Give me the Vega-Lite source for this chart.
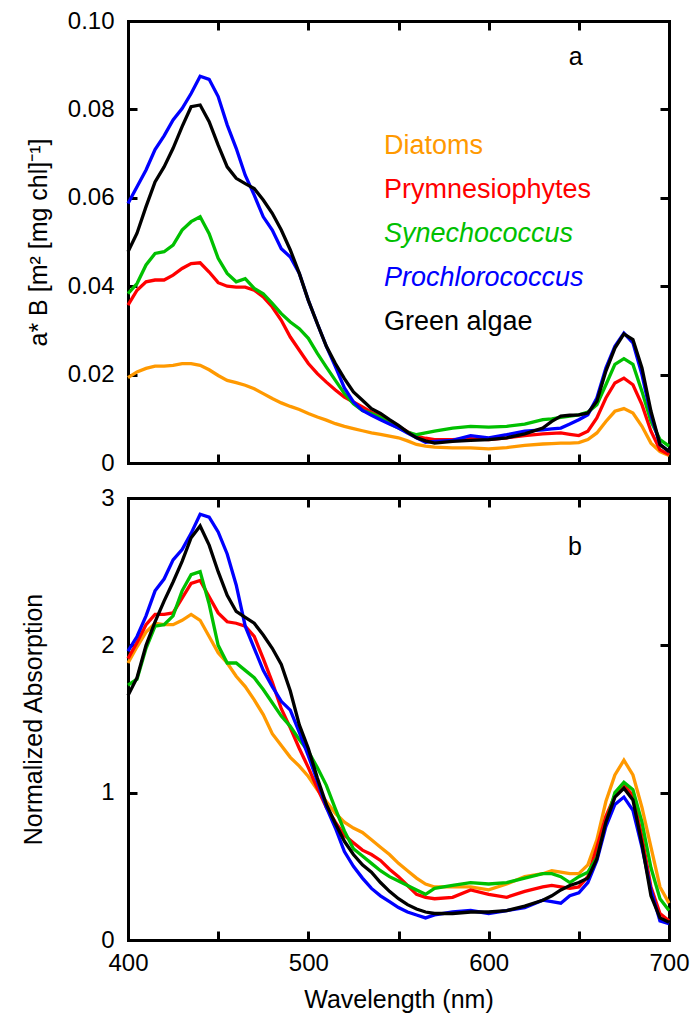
{
 "$schema": "https://vega.github.io/schema/vega-lite/v6.json",
 "background": "white",
 "padding": {"left": 21, "top": 9, "right": 0, "bottom": 5},
 "bounds": "flush",
 "spacing": 35,
 "config": {
  "font": "Liberation Sans",
  "view": {"stroke": null},
  "axis": {"domain": true, "domainColor": "black", "domainWidth": 3, "domainCap": "square", "grid": false, "ticks": false, "tickSize": 0, "tickColor": "black", "tickWidth": 3, "labelFlush": false, "labelFontSize": 24, "labelColor": "black", "labelFont": "Liberation Sans", "titleFont": "Liberation Sans", "titleFontSize": 25, "titleFontWeight": "normal", "titleColor": "black", "labelPadding": 14},
  "title": {"font": "Liberation Sans", "fontSize": 25, "fontWeight": "normal", "color": "black"}
 },
 "datasets": {
  "a": [
   {"wl":400,"Diatoms":0.0193,"Prymnesiophytes":0.0357,"Synechococcus":0.0383,"Prochlorococcus":0.0587,"Green algae":0.0478},
   {"wl":405,"Diatoms":0.0206,"Prymnesiophytes":0.0391,"Synechococcus":0.0406,"Prochlorococcus":0.0625,"Green algae":0.052},
   {"wl":410,"Diatoms":0.0214,"Prymnesiophytes":0.041,"Synechococcus":0.0448,"Prochlorococcus":0.0663,"Green algae":0.058},
   {"wl":415,"Diatoms":0.0219,"Prymnesiophytes":0.0414,"Synechococcus":0.0474,"Prochlorococcus":0.0709,"Green algae":0.0636},
   {"wl":420,"Diatoms":0.0219,"Prymnesiophytes":0.0414,"Synechococcus":0.0478,"Prochlorococcus":0.074,"Green algae":0.067},
   {"wl":425,"Diatoms":0.0221,"Prymnesiophytes":0.0425,"Synechococcus":0.0493,"Prochlorococcus":0.0776,"Green algae":0.0712},
   {"wl":430,"Diatoms":0.0225,"Prymnesiophytes":0.044,"Synechococcus":0.0527,"Prochlorococcus":0.0802,"Green algae":0.0761},
   {"wl":435,"Diatoms":0.0225,"Prymnesiophytes":0.0451,"Synechococcus":0.0546,"Prochlorococcus":0.0836,"Green algae":0.0806},
   {"wl":440,"Diatoms":0.0221,"Prymnesiophytes":0.0453,"Synechococcus":0.0557,"Prochlorococcus":0.0875,"Green algae":0.081},
   {"wl":445,"Diatoms":0.0211,"Prymnesiophytes":0.0432,"Synechococcus":0.0519,"Prochlorococcus":0.0868,"Green algae":0.0772},
   {"wl":450,"Diatoms":0.0198,"Prymnesiophytes":0.0408,"Synechococcus":0.0463,"Prochlorococcus":0.0829,"Green algae":0.0719},
   {"wl":455,"Diatoms":0.0187,"Prymnesiophytes":0.04,"Synechococcus":0.0429,"Prochlorococcus":0.0765,"Green algae":0.067},
   {"wl":460,"Diatoms":0.0182,"Prymnesiophytes":0.0398,"Synechococcus":0.041,"Prochlorococcus":0.0712,"Green algae":0.0644},
   {"wl":465,"Diatoms":0.0176,"Prymnesiophytes":0.0398,"Synechococcus":0.0417,"Prochlorococcus":0.0651,"Green algae":0.0632},
   {"wl":470,"Diatoms":0.0168,"Prymnesiophytes":0.0391,"Synechococcus":0.0395,"Prochlorococcus":0.0606,"Green algae":0.0621},
   {"wl":475,"Diatoms":0.0157,"Prymnesiophytes":0.0376,"Synechococcus":0.0383,"Prochlorococcus":0.0557,"Green algae":0.0595},
   {"wl":480,"Diatoms":0.0146,"Prymnesiophytes":0.0353,"Synechococcus":0.0361,"Prochlorococcus":0.0527,"Green algae":0.0565},
   {"wl":485,"Diatoms":0.0136,"Prymnesiophytes":0.0323,"Synechococcus":0.0338,"Prochlorococcus":0.0485,"Green algae":0.0527},
   {"wl":490,"Diatoms":0.0128,"Prymnesiophytes":0.0285,"Synechococcus":0.0319,"Prochlorococcus":0.0466,"Green algae":0.0482},
   {"wl":495,"Diatoms":0.0121,"Prymnesiophytes":0.0255,"Synechococcus":0.0304,"Prochlorococcus":0.0429,"Green algae":0.0429},
   {"wl":500,"Diatoms":0.0112,"Prymnesiophytes":0.0225,"Synechococcus":0.0282,"Prochlorococcus":0.0368,"Green algae":0.0368},
   {"wl":505,"Diatoms":0.0104,"Prymnesiophytes":0.0202,"Synechococcus":0.0248,"Prochlorococcus":0.0315,"Green algae":0.0315},
   {"wl":510,"Diatoms":0.0097,"Prymnesiophytes":0.0183,"Synechococcus":0.0217,"Prochlorococcus":0.0264,"Green algae":0.0264},
   {"wl":515,"Diatoms":0.0089,"Prymnesiophytes":0.0165,"Synechococcus":0.0187,"Prochlorococcus":0.0218,"Green algae":0.0225},
   {"wl":520,"Diatoms":0.0083,"Prymnesiophytes":0.0149,"Synechococcus":0.0157,"Prochlorococcus":0.017,"Green algae":0.0191},
   {"wl":525,"Diatoms":0.0078,"Prymnesiophytes":0.0138,"Synechococcus":0.0134,"Prochlorococcus":0.0138,"Green algae":0.0161},
   {"wl":530,"Diatoms":0.0073,"Prymnesiophytes":0.0127,"Synechococcus":0.0119,"Prochlorococcus":0.0119,"Green algae":0.0142},
   {"wl":535,"Diatoms":0.0068,"Prymnesiophytes":0.0115,"Synechococcus":0.0112,"Prochlorococcus":0.0108,"Green algae":0.0123},
   {"wl":540,"Diatoms":0.0065,"Prymnesiophytes":0.0106,"Synechococcus":0.0103,"Prochlorococcus":0.0098,"Green algae":0.0112},
   {"wl":545,"Diatoms":0.0061,"Prymnesiophytes":0.0095,"Synechococcus":0.009,"Prochlorococcus":0.0088,"Green algae":0.0098},
   {"wl":550,"Diatoms":0.0057,"Prymnesiophytes":0.0083,"Synechococcus":0.0079,"Prochlorococcus":0.0079,"Green algae":0.0085},
   {"wl":555,"Diatoms":0.005,"Prymnesiophytes":0.0071,"Synechococcus":0.007,"Prochlorococcus":0.0068,"Green algae":0.007},
   {"wl":560,"Diatoms":0.0042,"Prymnesiophytes":0.006,"Synechococcus":0.0064,"Prochlorococcus":0.0057,"Green algae":0.0057},
   {"wl":565,"Diatoms":0.0038,"Prymnesiophytes":0.0056,"Synechococcus":0.0068,"Prochlorococcus":0.0047,"Green algae":0.005},
   {"wl":570,"Diatoms":0.0036,"Prymnesiophytes":0.0053,"Synechococcus":0.0072,"Prochlorococcus":0.0049,"Green algae":0.0045},
   {"wl":580,"Diatoms":0.0034,"Prymnesiophytes":0.0053,"Synechococcus":0.0079,"Prochlorococcus":0.0051,"Green algae":0.0049},
   {"wl":590,"Diatoms":0.0034,"Prymnesiophytes":0.0055,"Synechococcus":0.0083,"Prochlorococcus":0.0062,"Green algae":0.0051},
   {"wl":600,"Diatoms":0.0032,"Prymnesiophytes":0.0053,"Synechococcus":0.0081,"Prochlorococcus":0.0057,"Green algae":0.0053},
   {"wl":610,"Diatoms":0.0035,"Prymnesiophytes":0.0057,"Synechococcus":0.0083,"Prochlorococcus":0.0064,"Green algae":0.0057},
   {"wl":620,"Diatoms":0.004,"Prymnesiophytes":0.0062,"Synechococcus":0.0088,"Prochlorococcus":0.0072,"Green algae":0.0066},
   {"wl":630,"Diatoms":0.0043,"Prymnesiophytes":0.0066,"Synechococcus":0.0098,"Prochlorococcus":0.0075,"Green algae":0.0079},
   {"wl":635,"Diatoms":0.0044,"Prymnesiophytes":0.0067,"Synechococcus":0.01,"Prochlorococcus":0.0077,"Green algae":0.0094},
   {"wl":640,"Diatoms":0.0045,"Prymnesiophytes":0.0068,"Synechococcus":0.0103,"Prochlorococcus":0.0079,"Green algae":0.0106},
   {"wl":645,"Diatoms":0.0045,"Prymnesiophytes":0.0065,"Synechococcus":0.0106,"Prochlorococcus":0.0088,"Green algae":0.0108},
   {"wl":650,"Diatoms":0.0046,"Prymnesiophytes":0.0062,"Synechococcus":0.0109,"Prochlorococcus":0.0098,"Green algae":0.0109},
   {"wl":655,"Diatoms":0.0053,"Prymnesiophytes":0.0072,"Synechococcus":0.0115,"Prochlorococcus":0.0109,"Green algae":0.0113},
   {"wl":660,"Diatoms":0.0068,"Prymnesiophytes":0.0102,"Synechococcus":0.0132,"Prochlorococcus":0.0147,"Green algae":0.014},
   {"wl":665,"Diatoms":0.0094,"Prymnesiophytes":0.0147,"Synechococcus":0.0177,"Prochlorococcus":0.0215,"Green algae":0.0208},
   {"wl":670,"Diatoms":0.0117,"Prymnesiophytes":0.0181,"Synechococcus":0.0223,"Prochlorococcus":0.0264,"Green algae":0.026},
   {"wl":675,"Diatoms":0.0123,"Prymnesiophytes":0.0192,"Synechococcus":0.0236,"Prochlorococcus":0.0294,"Green algae":0.0292},
   {"wl":680,"Diatoms":0.0113,"Prymnesiophytes":0.0177,"Synechococcus":0.0223,"Prochlorococcus":0.0272,"Green algae":0.0279},
   {"wl":685,"Diatoms":0.0083,"Prymnesiophytes":0.0132,"Synechococcus":0.0162,"Prochlorococcus":0.02,"Green algae":0.0215},
   {"wl":690,"Diatoms":0.0045,"Prymnesiophytes":0.0072,"Synechococcus":0.0094,"Prochlorococcus":0.0109,"Green algae":0.0117},
   {"wl":695,"Diatoms":0.0026,"Prymnesiophytes":0.003,"Synechococcus":0.0053,"Prochlorococcus":0.0042,"Green algae":0.0042},
   {"wl":700,"Diatoms":0.0017,"Prymnesiophytes":0.0019,"Synechococcus":0.0038,"Prochlorococcus":0.0026,"Green algae":0.0026}
  ],
  "b": [
   {"wl":400,"Diatoms":1.88,"Prymnesiophytes":1.91,"Synechococcus":1.73,"Prochlorococcus":1.96,"Green algae":1.66},
   {"wl":405,"Diatoms":1.99,"Prymnesiophytes":2.02,"Synechococcus":1.77,"Prochlorococcus":2.06,"Green algae":1.78},
   {"wl":410,"Diatoms":2.09,"Prymnesiophytes":2.14,"Synechococcus":1.98,"Prochlorococcus":2.2,"Green algae":2.0},
   {"wl":415,"Diatoms":2.15,"Prymnesiophytes":2.21,"Synechococcus":2.13,"Prochlorococcus":2.37,"Green algae":2.16},
   {"wl":420,"Diatoms":2.14,"Prymnesiophytes":2.21,"Synechococcus":2.14,"Prochlorococcus":2.45,"Green algae":2.3},
   {"wl":425,"Diatoms":2.14,"Prymnesiophytes":2.22,"Synechococcus":2.2,"Prochlorococcus":2.58,"Green algae":2.43},
   {"wl":430,"Diatoms":2.17,"Prymnesiophytes":2.32,"Synechococcus":2.37,"Prochlorococcus":2.65,"Green algae":2.57},
   {"wl":435,"Diatoms":2.21,"Prymnesiophytes":2.42,"Synechococcus":2.48,"Prochlorococcus":2.76,"Green algae":2.73},
   {"wl":440,"Diatoms":2.17,"Prymnesiophytes":2.44,"Synechococcus":2.5,"Prochlorococcus":2.89,"Green algae":2.81},
   {"wl":445,"Diatoms":2.06,"Prymnesiophytes":2.33,"Synechococcus":2.28,"Prochlorococcus":2.87,"Green algae":2.68},
   {"wl":450,"Diatoms":1.95,"Prymnesiophytes":2.22,"Synechococcus":2.0,"Prochlorococcus":2.77,"Green algae":2.5},
   {"wl":455,"Diatoms":1.88,"Prymnesiophytes":2.16,"Synechococcus":1.88,"Prochlorococcus":2.62,"Green algae":2.34},
   {"wl":460,"Diatoms":1.79,"Prymnesiophytes":2.15,"Synechococcus":1.88,"Prochlorococcus":2.41,"Green algae":2.23},
   {"wl":465,"Diatoms":1.72,"Prymnesiophytes":2.13,"Synechococcus":1.83,"Prochlorococcus":2.13,"Green algae":2.19},
   {"wl":470,"Diatoms":1.63,"Prymnesiophytes":2.06,"Synechococcus":1.78,"Prochlorococcus":1.98,"Green algae":2.15},
   {"wl":475,"Diatoms":1.53,"Prymnesiophytes":1.91,"Synechococcus":1.7,"Prochlorococcus":1.83,"Green algae":2.07},
   {"wl":480,"Diatoms":1.4,"Prymnesiophytes":1.75,"Synechococcus":1.61,"Prochlorococcus":1.72,"Green algae":1.98},
   {"wl":485,"Diatoms":1.32,"Prymnesiophytes":1.57,"Synechococcus":1.52,"Prochlorococcus":1.62,"Green algae":1.87},
   {"wl":490,"Diatoms":1.24,"Prymnesiophytes":1.44,"Synechococcus":1.45,"Prochlorococcus":1.56,"Green algae":1.69},
   {"wl":495,"Diatoms":1.18,"Prymnesiophytes":1.3,"Synechococcus":1.36,"Prochlorococcus":1.41,"Green algae":1.46},
   {"wl":500,"Diatoms":1.11,"Prymnesiophytes":1.17,"Synechococcus":1.28,"Prochlorococcus":1.25,"Green algae":1.3},
   {"wl":505,"Diatoms":1.02,"Prymnesiophytes":1.03,"Synechococcus":1.17,"Prochlorococcus":1.08,"Green algae":1.1},
   {"wl":510,"Diatoms":0.94,"Prymnesiophytes":0.9,"Synechococcus":1.05,"Prochlorococcus":0.9,"Green algae":0.92},
   {"wl":515,"Diatoms":0.86,"Prymnesiophytes":0.8,"Synechococcus":0.89,"Prochlorococcus":0.76,"Green algae":0.79},
   {"wl":520,"Diatoms":0.8,"Prymnesiophytes":0.71,"Synechococcus":0.74,"Prochlorococcus":0.6,"Green algae":0.67},
   {"wl":525,"Diatoms":0.76,"Prymnesiophytes":0.66,"Synechococcus":0.62,"Prochlorococcus":0.5,"Green algae":0.58},
   {"wl":530,"Diatoms":0.73,"Prymnesiophytes":0.61,"Synechococcus":0.57,"Prochlorococcus":0.42,"Green algae":0.51},
   {"wl":535,"Diatoms":0.68,"Prymnesiophytes":0.58,"Synechococcus":0.52,"Prochlorococcus":0.35,"Green algae":0.46},
   {"wl":540,"Diatoms":0.63,"Prymnesiophytes":0.54,"Synechococcus":0.47,"Prochlorococcus":0.3,"Green algae":0.39},
   {"wl":545,"Diatoms":0.58,"Prymnesiophytes":0.48,"Synechococcus":0.43,"Prochlorococcus":0.26,"Green algae":0.33},
   {"wl":550,"Diatoms":0.52,"Prymnesiophytes":0.43,"Synechococcus":0.4,"Prochlorococcus":0.22,"Green algae":0.28},
   {"wl":555,"Diatoms":0.47,"Prymnesiophytes":0.37,"Synechococcus":0.37,"Prochlorococcus":0.19,"Green algae":0.24},
   {"wl":560,"Diatoms":0.42,"Prymnesiophytes":0.31,"Synechococcus":0.34,"Prochlorococcus":0.17,"Green algae":0.21},
   {"wl":565,"Diatoms":0.38,"Prymnesiophytes":0.29,"Synechococcus":0.31,"Prochlorococcus":0.15,"Green algae":0.19},
   {"wl":570,"Diatoms":0.36,"Prymnesiophytes":0.28,"Synechococcus":0.35,"Prochlorococcus":0.17,"Green algae":0.18},
   {"wl":580,"Diatoms":0.36,"Prymnesiophytes":0.29,"Synechococcus":0.37,"Prochlorococcus":0.19,"Green algae":0.18},
   {"wl":590,"Diatoms":0.36,"Prymnesiophytes":0.34,"Synechococcus":0.39,"Prochlorococcus":0.2,"Green algae":0.19},
   {"wl":600,"Diatoms":0.34,"Prymnesiophytes":0.31,"Synechococcus":0.38,"Prochlorococcus":0.18,"Green algae":0.19},
   {"wl":610,"Diatoms":0.38,"Prymnesiophytes":0.29,"Synechococcus":0.39,"Prochlorococcus":0.2,"Green algae":0.2},
   {"wl":620,"Diatoms":0.43,"Prymnesiophytes":0.33,"Synechococcus":0.42,"Prochlorococcus":0.22,"Green algae":0.23},
   {"wl":630,"Diatoms":0.45,"Prymnesiophytes":0.36,"Synechococcus":0.45,"Prochlorococcus":0.27,"Green algae":0.27},
   {"wl":635,"Diatoms":0.47,"Prymnesiophytes":0.37,"Synechococcus":0.45,"Prochlorococcus":0.26,"Green algae":0.3},
   {"wl":640,"Diatoms":0.46,"Prymnesiophytes":0.36,"Synechococcus":0.43,"Prochlorococcus":0.25,"Green algae":0.34},
   {"wl":645,"Diatoms":0.45,"Prymnesiophytes":0.35,"Synechococcus":0.39,"Prochlorococcus":0.3,"Green algae":0.37},
   {"wl":650,"Diatoms":0.45,"Prymnesiophytes":0.36,"Synechococcus":0.43,"Prochlorococcus":0.32,"Green algae":0.39},
   {"wl":655,"Diatoms":0.51,"Prymnesiophytes":0.43,"Synechococcus":0.46,"Prochlorococcus":0.39,"Green algae":0.42},
   {"wl":660,"Diatoms":0.68,"Prymnesiophytes":0.63,"Synechococcus":0.56,"Prochlorococcus":0.54,"Green algae":0.55},
   {"wl":665,"Diatoms":0.94,"Prymnesiophytes":0.84,"Synechococcus":0.79,"Prochlorococcus":0.77,"Green algae":0.8},
   {"wl":670,"Diatoms":1.12,"Prymnesiophytes":0.98,"Synechococcus":1.0,"Prochlorococcus":0.92,"Green algae":0.97},
   {"wl":675,"Diatoms":1.22,"Prymnesiophytes":1.05,"Synechococcus":1.07,"Prochlorococcus":0.97,"Green algae":1.03},
   {"wl":680,"Diatoms":1.12,"Prymnesiophytes":0.98,"Synechococcus":1.02,"Prochlorococcus":0.88,"Green algae":0.95},
   {"wl":685,"Diatoms":0.9,"Prymnesiophytes":0.7,"Synechococcus":0.8,"Prochlorococcus":0.63,"Green algae":0.65},
   {"wl":690,"Diatoms":0.63,"Prymnesiophytes":0.36,"Synechococcus":0.49,"Prochlorococcus":0.34,"Green algae":0.3},
   {"wl":695,"Diatoms":0.36,"Prymnesiophytes":0.18,"Synechococcus":0.28,"Prochlorococcus":0.13,"Green algae":0.15},
   {"wl":700,"Diatoms":0.25,"Prymnesiophytes":0.13,"Synechococcus":0.2,"Prochlorococcus":0.11,"Green algae":0.12}
  ]
 },
 "resolve": {"scale": {"color": "independent"}},
 "vconcat": [
  {
   "width": 541, "height": 442,
   "title": {"text": "a", "anchor": "end", "dx": -93, "dy": 65},
   "data": {"name": "a"},
   "transform": [{"fold": ["Diatoms", "Prymnesiophytes", "Synechococcus", "Prochlorococcus", "Green algae"], "as": ["series", "v"]}],
   "layer": [
    {
     "mark": {"type": "line", "strokeWidth": 3.3},
     "encoding": {
      "x": {"field": "wl", "type": "quantitative", "scale": {"domain": [400, 700], "nice": false, "zero": false}, "axis": {"values": [400, 500, 600, 700], "labels": false, "title": null}},
      "y": {"field": "v", "type": "quantitative", "scale": {"domain": [0, 0.1], "nice": false}, "axis": {"values": [0, 0.02, 0.04, 0.06, 0.08, 0.1], "labelExpr": "datum.value == 0 ? '0' : format(datum.value, '.2f')", "title": "a* B [m² [mg chl]⁻¹]", "titlePadding": 16}},
      "color": {"field": "series", "type": "nominal",
       "scale": {"domain": ["Diatoms", "Prymnesiophytes", "Synechococcus", "Prochlorococcus", "Green algae"], "range": ["#ff9900", "#ff0000", "#00c000", "#0000ff", "#000000"]},
       "legend": {"orient": "none", "legendX": 229, "legendY": 111, "title": null, "padding": 0, "symbolSize": 0, "symbolOpacity": 0, "symbolStrokeWidth": 0, "labelOffset": 0, "labelFontSize": 27, "labelFont": "Liberation Sans", "labelLimit": 400, "rowPadding": 16,
        "encode": {"labels": {"update": {
         "fill": {"signal": "datum.value == 'Diatoms' ? '#ff9900' : datum.value == 'Prymnesiophytes' ? '#ff0000' : datum.value == 'Synechococcus' ? '#00c000' : datum.value == 'Prochlorococcus' ? '#0000ff' : '#000000'"},
         "fontStyle": {"signal": "datum.value == 'Synechococcus' || datum.value == 'Prochlorococcus' ? 'italic' : 'normal'"}
        }}}}
      }
     }
    },
    {
     "mark": {"type": "point", "opacity": 0},
     "encoding": {
      "x": {"field": "wl", "type": "quantitative", "scale": {"domain": [400, 700], "nice": false, "zero": false}, "axis": {"orient": "top", "values": [400, 700], "labels": false, "title": null}},
      "y": {"field": "v", "type": "quantitative", "scale": {"domain": [0, 0.1], "nice": false}, "axis": {"orient": "right", "values": [0, 0.1], "labels": false, "title": null}}
     }
    },
    {
     "mark": {"type": "point", "opacity": 0},
     "encoding": {
      "x": {"field": "wl", "type": "quantitative", "scale": {"domain": [400, 700], "nice": false, "zero": false}, "axis": {"orient": "bottom", "offset": -9, "ticks": true, "tickSize": 9, "domain": false, "values": [450, 500, 550, 600, 650], "labels": false, "title": null}},
      "y": {"field": "v", "type": "quantitative", "scale": {"domain": [0, 0.1], "nice": false}, "axis": {"orient": "left", "offset": -9, "ticks": true, "tickSize": 9, "domain": false, "values": [0.02, 0.04, 0.06, 0.08], "labels": false, "title": null}}
     }
    },
    {
     "mark": {"type": "point", "opacity": 0},
     "encoding": {
      "x": {"field": "wl", "type": "quantitative", "scale": {"domain": [400, 700], "nice": false, "zero": false}, "axis": {"orient": "top", "offset": -9, "ticks": true, "tickSize": 9, "domain": false, "values": [450, 500, 550, 600, 650], "labels": false, "title": null}},
      "y": {"field": "v", "type": "quantitative", "scale": {"domain": [0, 0.1], "nice": false}, "axis": {"orient": "right", "offset": -9, "ticks": true, "tickSize": 9, "domain": false, "values": [0.02, 0.04, 0.06, 0.08], "labels": false, "title": null}}
     }
    }
   ],
   "resolve": {"axis": {"x": "independent", "y": "independent"}}
  },
  {
   "width": 541, "height": 442,
   "title": {"text": "b", "anchor": "end", "dx": -107, "dy": 78},
   "data": {"name": "b"},
   "transform": [{"fold": ["Diatoms", "Prymnesiophytes", "Synechococcus", "Prochlorococcus", "Green algae"], "as": ["series", "v"]}],
   "layer": [
    {
     "mark": {"type": "line", "strokeWidth": 3.3},
     "encoding": {
      "x": {"field": "wl", "type": "quantitative", "scale": {"domain": [400, 700], "nice": false, "zero": false}, "axis": {"values": [400, 500, 600, 700], "labelPadding": 11, "title": "Wavelength (nm)", "titlePadding": 12}},
      "y": {"field": "v", "type": "quantitative", "scale": {"domain": [0, 3], "nice": false}, "axis": {"values": [0, 1, 2, 3], "title": "Normalized Absorption", "titlePadding": 54}},
      "color": {"field": "series", "type": "nominal",
       "scale": {"domain": ["Diatoms", "Prymnesiophytes", "Synechococcus", "Prochlorococcus", "Green algae"], "range": ["#ff9900", "#ff0000", "#00c000", "#0000ff", "#000000"]},
       "legend": null}
     }
    },
    {
     "mark": {"type": "point", "opacity": 0},
     "encoding": {
      "x": {"field": "wl", "type": "quantitative", "scale": {"domain": [400, 700], "nice": false, "zero": false}, "axis": {"orient": "top", "values": [400, 700], "labels": false, "title": null}},
      "y": {"field": "v", "type": "quantitative", "scale": {"domain": [0, 3], "nice": false}, "axis": {"orient": "right", "values": [0, 3], "labels": false, "title": null}}
     }
    },
    {
     "mark": {"type": "point", "opacity": 0},
     "encoding": {
      "x": {"field": "wl", "type": "quantitative", "scale": {"domain": [400, 700], "nice": false, "zero": false}, "axis": {"orient": "bottom", "offset": -9, "ticks": true, "tickSize": 9, "domain": false, "values": [450, 500, 550, 600, 650], "labels": false, "title": null}},
      "y": {"field": "v", "type": "quantitative", "scale": {"domain": [0, 3], "nice": false}, "axis": {"orient": "left", "offset": -9, "ticks": true, "tickSize": 9, "domain": false, "values": [1, 2], "labels": false, "title": null}}
     }
    },
    {
     "mark": {"type": "point", "opacity": 0},
     "encoding": {
      "x": {"field": "wl", "type": "quantitative", "scale": {"domain": [400, 700], "nice": false, "zero": false}, "axis": {"orient": "top", "offset": -9, "ticks": true, "tickSize": 9, "domain": false, "values": [450, 500, 550, 600, 650], "labels": false, "title": null}},
      "y": {"field": "v", "type": "quantitative", "scale": {"domain": [0, 3], "nice": false}, "axis": {"orient": "right", "offset": -9, "ticks": true, "tickSize": 9, "domain": false, "values": [1, 2], "labels": false, "title": null}}
     }
    }
   ],
   "resolve": {"axis": {"x": "independent", "y": "independent"}}
  }
 ]
}
